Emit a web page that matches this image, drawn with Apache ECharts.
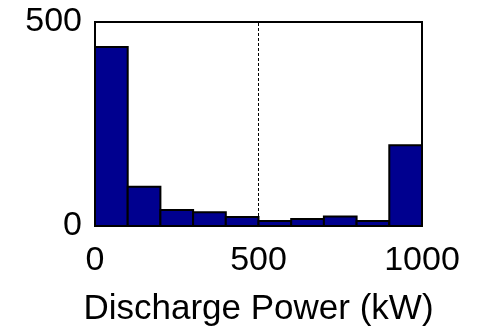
<!DOCTYPE html>
<html>
<head>
<meta charset="utf-8">
<script src="https://cdn.jsdelivr.net/npm/echarts@6/dist/echarts.min.js"></script>
<style>html,body{margin:0;padding:0;background:#fff}#c{width:477px;height:328px}</style>
</head>
<body>
<div id="c"></div>
<script>
const binStarts = [0, 100, 200, 300, 400, 500, 600, 700, 800, 900];
const binWidth = 100;
const counts = [439, 96, 39, 34, 22, 12, 17, 23, 12, 198];
const xTicks = [0, 500, 1000];
const yTicks = [0, 500];
const refLineX = 500;
const xLabel = 'Discharge Power (kW)';

const chart = echarts.init(document.getElementById('c'), null, {renderer: 'canvas'});
const font = 'Liberation Sans, Arial, sans-serif';
chart.setOption({
  animation: false,
  grid: {left: 95, right: 55, top: 22, bottom: 102, show: true, borderColor: '#000', borderWidth: 2, backgroundColor: 'transparent', containLabel: false, outerBoundsMode: 'none'},
  xAxis: {
    type: 'value', min: xTicks[0], max: xTicks[xTicks.length - 1], interval: 500,
    name: xLabel, nameLocation: 'middle', nameGap: 66,
    nameTextStyle: {fontFamily: font, fontSize: 35, color: '#000'},
    axisLine: {show: true, lineStyle: {color: '#000', width: 2}},
    axisTick: {show: false},
    splitLine: {show: false},
    axisLabel: {fontFamily: font, fontSize: 34, color: '#000', margin: 18, formatter: v => String(v)}
  },
  yAxis: {
    type: 'value', min: yTicks[0], max: yTicks[yTicks.length - 1], interval: 500,
    axisLine: {show: true, lineStyle: {color: '#000', width: 2}},
    axisTick: {show: false},
    splitLine: {show: false},
    axisLabel: {fontFamily: font, fontSize: 34, color: '#000', margin: 13, formatter: v => String(v)}
  },
  series: [{
    type: 'custom',
    data: binStarts.map((s, i) => [s, s + binWidth, counts[i]]),
    encode: {x: [0, 1], y: 2},
    renderItem: function (params, api) {
      const p0 = api.coord([api.value(0), 0]);
      const p1 = api.coord([api.value(1), api.value(2)]);
      return {
        type: 'rect',
        shape: {x: p0[0], y: p1[1], width: p1[0] - p0[0], height: p0[1] - p1[1]},
        style: {fill: '#00008F', stroke: '#000', lineWidth: 2}
      };
    },
    markLine: {
      silent: true, symbol: 'none', label: {show: false},
      lineStyle: {color: '#000', type: [3, 2], width: 1},
      data: [{xAxis: refLineX}]
    },
    z: 2
  }]
});
</script>
</body>
</html>
